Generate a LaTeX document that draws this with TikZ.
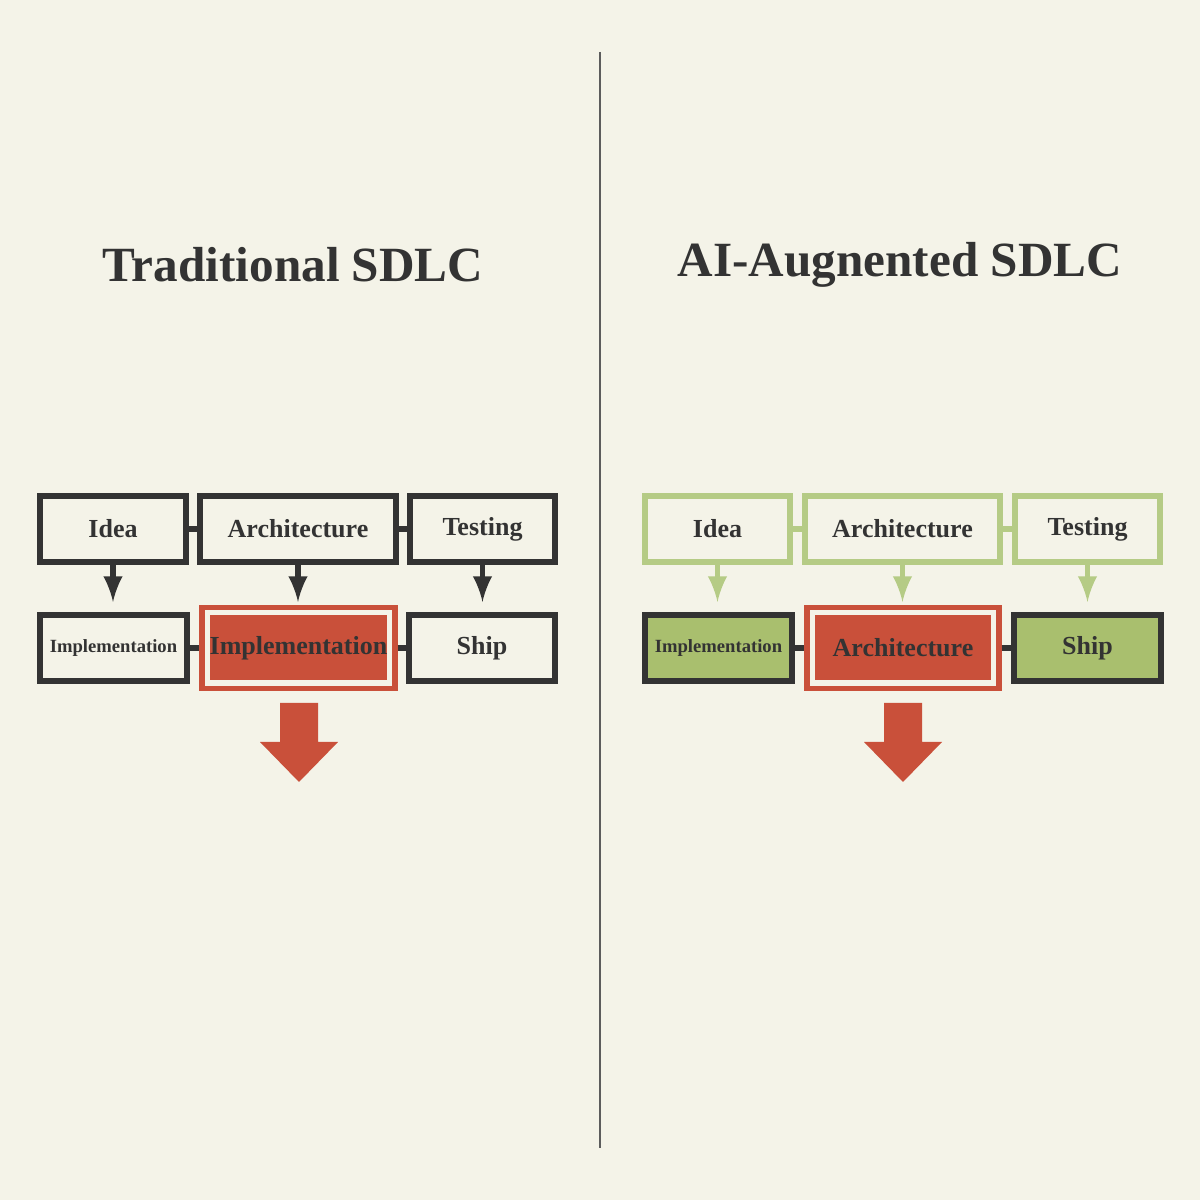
\documentclass[tikz,border=0pt]{standalone}
\usepackage{fontspec}
\setmainfont{Liberation Serif}
\usepackage{tikz}
\usetikzlibrary{positioning}
\definecolor{bg}{HTML}{F4F3E8}
\definecolor{dark}{HTML}{333333}
\definecolor{rust}{HTML}{C9503A}
\definecolor{sage}{HTML}{B5CB85}
\definecolor{sagefill}{HTML}{A9BF6E}
\tikzset{
  stage/.style={draw=dark, line width=1.8pt, fill=bg, minimum height=0.66cm, inner sep=0pt, font=\bfseries\fontsize{7.4}{9}\selectfont, text=dark},
  small/.style={font=\bfseries\fontsize{5.3}{7}\selectfont},
  link/.style={dark, line width=1.8pt},
  down/.style={dark, line width=1.5pt, -latex},
  title/.style={font=\bfseries\fontsize{14}{17}\selectfont, text=dark}
}
\begin{document}
\begin{tikzpicture}
\fill[bg] (0,0) rectangle (12,12);
\useasboundingbox (0,0) rectangle (12,12);
\draw[dark!80, line width=0.8pt] (6,11.48) -- (6,0.52);

% traditional
\node[title] (t1) at (2.93,9.35) {Traditional SDLC};
\node[stage, minimum width=1.46cm] (idea1) at (1.13,6.71) {Idea};
\node[stage, minimum width=1.96cm] (arch1) at (2.98,6.71) {Architecture};
\node[stage, minimum width=1.45cm] (test1) at (4.825,6.71) {Testing};
\node[stage, small, minimum width=1.47cm] (impl1) at (1.135,5.52) {Implementation};
\node[stage, draw=rust, line width=1.5pt, minimum width=1.93cm, minimum height=0.81cm] (hot1) at (2.985,5.52) {};
\node[stage, draw=none, fill=rust, minimum width=1.77cm, minimum height=0.65cm] (hotin1) at (hot1) {Implementation};
\node[stage, minimum width=1.46cm] (ship1) at (4.82,5.52) {Ship};
\draw[link] (idea1) -- (arch1);
\draw[link] (arch1) -- (test1);
\draw[link] (impl1) -- (hot1);
\draw[link] (hot1) -- (ship1);
\draw[down] (idea1) -- (1.13,5.98);
\draw[down] (arch1) -- (2.98,5.98);
\draw[down] (test1) -- (4.825,5.98);
\fill[rust] (2.80,4.97) -- (3.18,4.97) -- (3.18,4.58) -- (3.38,4.58) -- (2.99,4.18) -- (2.60,4.58) -- (2.80,4.58) -- cycle;

% ai-augmented
\node[title] (t2) at (9.0,9.35) {AI-Augnented SDLC};
\node[stage, draw=sage, minimum width=1.45cm] (idea2) at (7.175,6.71) {Idea};
\node[stage, draw=sage, minimum width=1.95cm] (arch2) at (9.025,6.71) {Architecture};
\node[stage, draw=sage, minimum width=1.45cm] (test2) at (10.875,6.71) {Testing};
\node[stage, small, fill=sagefill, minimum width=1.47cm] (impl2) at (7.185,5.52) {Implementation};
\node[stage, draw=rust, line width=1.5pt, minimum width=1.92cm, minimum height=0.81cm] (hot2) at (9.03,5.52) {};
\node[stage, draw=none, fill=rust, minimum width=1.76cm, minimum height=0.65cm] (hotin2) at (hot2) {Architecture};
\node[stage, fill=sagefill, minimum width=1.47cm] (ship2) at (10.875,5.52) {Ship};
\draw[link, sage] (idea2) -- (arch2);
\draw[link, sage] (arch2) -- (test2);
\draw[link] (impl2) -- (hot2);
\draw[link] (hot2) -- (ship2);
\draw[down, sage] (idea2) -- (7.175,5.98);
\draw[down, sage] (arch2) -- (9.025,5.98);
\draw[down, sage] (test2) -- (10.875,5.98);
\fill[rust] (8.84,4.97) -- (9.22,4.97) -- (9.22,4.58) -- (9.42,4.58) -- (9.03,4.18) -- (8.64,4.58) -- (8.84,4.58) -- cycle;
\end{tikzpicture}
\end{document}
